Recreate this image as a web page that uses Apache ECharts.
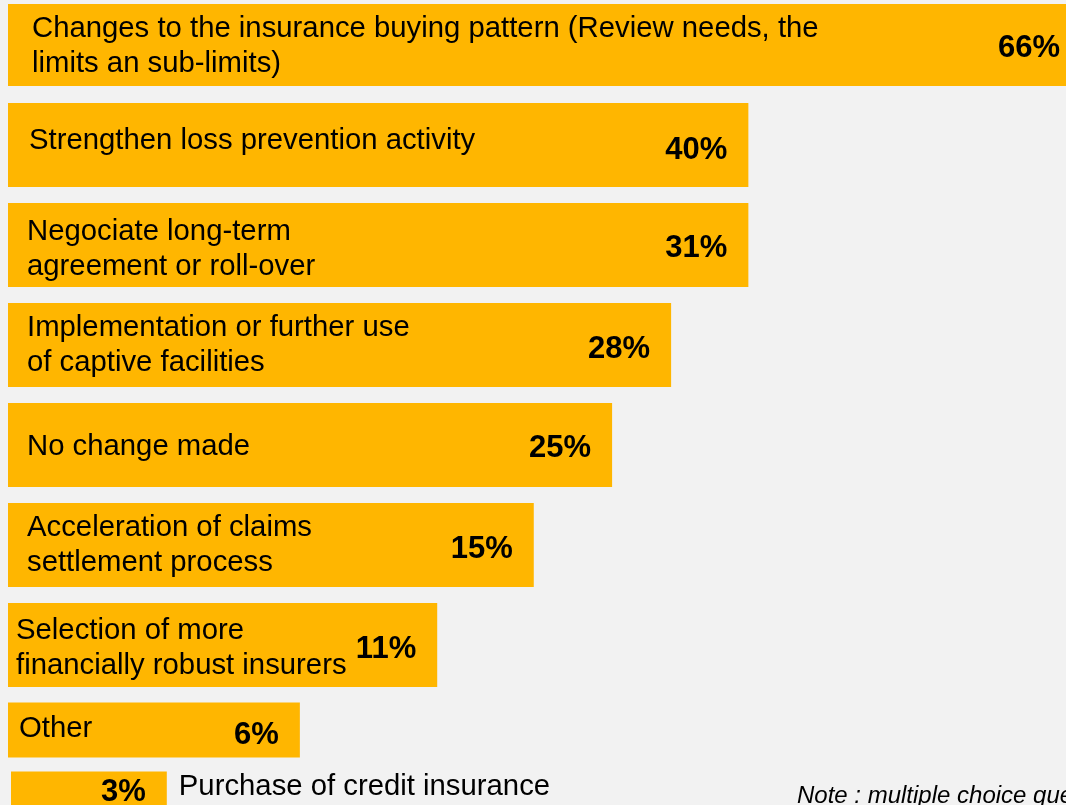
<!DOCTYPE html>
<html>
<head>
<meta charset="utf-8">
<script src="https://cdn.jsdelivr.net/npm/echarts@6/dist/echarts.min.js"></script>
<style>
  html, body { margin: 0; padding: 0; background: #f2f2f2; }
  #chart { width: 1066px; height: 805px; }
</style>
</head>
<body>
<div id="chart"></div>
<script>
const categories = [
  'Changes to the insurance buying pattern (Review needs, the\nlimits an sub-limits)',
  'Strengthen loss prevention activity',
  'Negociate long-term\nagreement or roll-over',
  'Implementation or further use\nof captive facilities',
  'No change made',
  'Acceleration of claims\nsettlement process',
  'Selection of more\nfinancially robust insurers',
  'Other',
  'Purchase of credit insurance'
]
// share of respondents (printed labels)
const shares = [66, 40, 31, 28, 25, 15, 11, 6, 3]
// bar lengths as drawn in the picture, longest bar = 100
const barLength = [100, 69, 69, 61.8, 56.3, 49, 40, 27.2, 14.8]

const FONT = '"Liberation Sans", Arial, sans-serif'
const ORANGE = '#FFB600'

// per-row layout tweaks: text inset, bar height, vertical shift
const rows = [
  { inset: 24, h: 82, nameDy: 1 },
  { inset: 21, nameDy: -4, pctDy: 5 },
  { inset: 19, nameDy: 4 },
  { inset: 19, nameDy: 0, pctDy: 4 },
  { inset: 19, nameDy: 2 },
  { inset: 19, pctDy: 4 },
  { inset: 8, nameDy: 3, pctDy: 4 },
  { inset: 11, h: 55, dy: -15, nameDy: -1, pctDy: 5 },
  { h: 55, dy: -46, outside: true, pctDy: -7, nameDy: -12, x: 3 }
]

const chart = echarts.init(document.getElementById('chart'))

chart.setOption({
  backgroundColor: '#f2f2f2',
  animation: false,
  grid: { left: 8, top: -5, width: 1073, height: 900, outerBoundsMode: 'none' },
  xAxis: { type: 'value', min: 0, max: 100, show: false },
  yAxis: { type: 'category', data: categories, inverse: true, show: false },
  series: [{
    type: 'custom',
    clip: false,
    data: barLength.map((v, i) => [v, i, shares[i]]),
    encode: { x: 0, y: 1 },
    renderItem: (params, api) => {
      const i = api.value(1)
      const row = rows[i] || {}
      const start = api.coord([0, i])
      const end = api.coord([api.value(0), i])
      const h = row.h || 84
      const cy = start[1] + (row.dy || 0)
      const x0 = start[0] + (row.x || 0)
      return {
        type: 'group',
        children: [{
          type: 'rect',
          shape: { x: x0, y: cy - h / 2, width: end[0] - x0, height: h },
          style: { fill: ORANGE }
        }, {
          type: 'text',
          style: {
            text: api.value(2) + '%',
            x: end[0] - 21,
            y: cy + (row.pctDy === undefined ? 3 : row.pctDy),
            align: 'right',
            verticalAlign: 'middle',
            fill: '#000',
            fontSize: 31,
            fontWeight: 'bold',
            fontFamily: FONT
          }
        }, {
          type: 'text',
          style: {
            text: categories[i],
            x: row.outside ? end[0] + 12 : x0 + row.inset,
            y: cy + (row.nameDy || 0),
            align: 'left',
            verticalAlign: 'middle',
            lineHeight: 35,
            fill: '#000',
            fontSize: 29.3,
            fontFamily: FONT
          }
        }]
      }
    }
  }],
  graphic: [{
    type: 'text',
    style: {
      text: 'Note : multiple choice questions',
      x: 797,
      y: 796,
      verticalAlign: 'middle',
      fill: '#000',
      fontSize: 24,
      fontStyle: 'italic',
      fontFamily: FONT
    }
  }]
})
</script>
</body>
</html>
